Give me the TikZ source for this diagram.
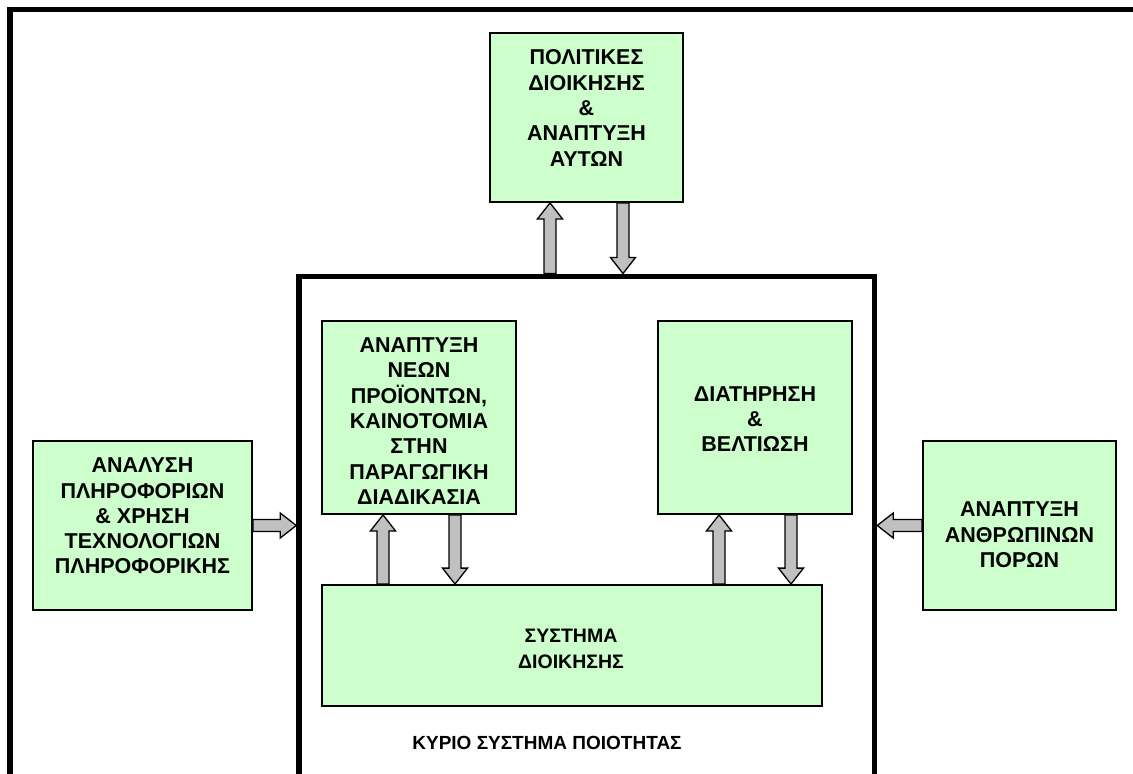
\documentclass[tikz,border=0pt]{standalone}
\usepackage{fontspec}
\setmainfont{Liberation Sans}
\usetikzlibrary{calc}
\definecolor{boxgreen}{HTML}{CCFFCC}
\definecolor{arrgray}{HTML}{C0C0C0}
\tikzset{
  box/.style={draw=black, line width=1.8pt, fill=boxgreen, inner sep=0pt},
  btxt/.style={align=center, font=\fontsize{21.5}{25.3}\selectfont\bfseries, inner sep=0pt},
  stxt/.style={align=center, font=\fontsize{19.5}{26}\selectfont\bfseries, inner sep=0pt},
  frameline/.style={draw=black, line width=5.5pt},
  barrow/.style={draw=black, line width=1.3pt, fill=arrgray, line join=miter}
}
\newcommand\blockarrow[2]{%
  \coordinate (ba-h) at ($(#2)!16pt!(#1)$);
  \draw[barrow] ($(#1)!6pt!90:(#2)$) -- ($(ba-h)!6pt!90:(#2)$) -- ($(ba-h)!12.5pt!90:(#2)$) -- (#2)
     -- ($(ba-h)!12.5pt!-90:(#2)$) -- ($(ba-h)!6pt!-90:(#2)$) -- ($(#1)!6pt!-90:(#2)$) -- cycle;}
\begin{document}
\begin{tikzpicture}[x=1pt,y=-1pt]
\useasboundingbox (0,0) rectangle (1133,774);
\clip (0,0) rectangle (1133,774);
\fill[white] (0,0) rectangle (1133,774);
% outer frame (cut off at right and bottom)
\draw[frameline] (10,9.5) rectangle (1200,900);
% inner frame
\node[frameline, minimum width=575.5pt, minimum height=700pt, anchor=north, inner sep=0pt, outer sep=2.75pt] (frame) at (586.75,273.5) {};
% boxes
\node[box, minimum width=193pt, minimum height=169pt] (top) at (586.5,117.5) {};
\node[box, minimum width=219pt, minimum height=169pt] (left) at (142.5,525.5) {};
\node[box, minimum width=194pt, minimum height=193pt] (nm) at (419,417.5) {};
\node[box, minimum width=194pt, minimum height=193pt] (dt) at (755,417.5) {};
\node[box, minimum width=193pt, minimum height=169pt] (right) at (1019.5,525.5) {};
\node[box, minimum width=500pt, minimum height=121pt] (sys) at (572,645.5) {};
% texts
\node[btxt] (topt) at (586.5,108) {ΠΟΛΙΤΙΚΕΣ\\ΔΙΟΙΚΗΣΗΣ\\\&\\ΑΝΑΠΤΥΞΗ\\ΑΥΤΩΝ};
\node[btxt] (leftt) at (142.5,516) {ΑΝΑΛΥΣΗ\\ΠΛΗΡΟΦΟΡΙΩΝ\\\& ΧΡΗΣΗ\\ΤΕΧΝΟΛΟΓΙΩΝ\\ΠΛΗΡΟΦΟΡΙΚΗΣ};
\node[btxt] (nmt) at (419,421) {ΑΝΑΠΤΥΞΗ\\ΝΕΩΝ\\ΠΡΟΪΟΝΤΩΝ,\\ΚΑΙΝΟΤΟΜΙΑ\\ΣΤΗΝ\\ΠΑΡΑΓΩΓΙΚΗ\\ΔΙΑΔΙΚΑΣΙΑ};
\node[btxt] (dtt) at (755,419) {ΔΙΑΤΗΡΗΣΗ\\\&\\ΒΕΛΤΙΩΣΗ};
\node[btxt] (rightt) at (1019.5,535) {ΑΝΑΠΤΥΞΗ\\ΑΝΘΡΩΠΙΝΩΝ\\ΠΟΡΩΝ};
\node[stxt] (syst) at (571,649) {ΣΥΣΤΗΜΑ\\ΔΙΟΙΚΗΣΗΣ};
\node[stxt, font=\fontsize{19}{23}\selectfont\bfseries] (label) at (547,743) {ΚΥΡΙΟ ΣΥΣΤΗΜΑ ΠΟΙΟΤΗΤΑΣ};
% arrow end points
\coordinate (t-up-tip) at ([xshift=-36.5pt]top.south);
\coordinate (t-up-base) at (t-up-tip |- frame.north);
\coordinate (t-dn-base) at ([xshift=36.5pt]top.south);
\coordinate (t-dn-tip) at (t-dn-base |- frame.north);
\coordinate (nm-up-tip) at ([xshift=-36pt]nm.south);
\coordinate (nm-up-base) at (nm-up-tip |- sys.north);
\coordinate (nm-dn-base) at ([xshift=36pt]nm.south);
\coordinate (nm-dn-tip) at (nm-dn-base |- sys.north);
\coordinate (dt-up-tip) at ([xshift=-36pt]dt.south);
\coordinate (dt-up-base) at (dt-up-tip |- sys.north);
\coordinate (dt-dn-base) at ([xshift=36pt]dt.south);
\coordinate (dt-dn-tip) at (dt-dn-base |- sys.north);
\coordinate (l-tip) at (left.east -| frame.west);
\coordinate (r-tip) at (right.west -| frame.east);
% arrows
\blockarrow{t-up-base}{t-up-tip}
\blockarrow{t-dn-base}{t-dn-tip}
\blockarrow{nm-up-base}{nm-up-tip}
\blockarrow{nm-dn-base}{nm-dn-tip}
\blockarrow{dt-up-base}{dt-up-tip}
\blockarrow{dt-dn-base}{dt-dn-tip}
\blockarrow{left.east}{l-tip}
\blockarrow{right.west}{r-tip}
\end{tikzpicture}
\end{document}
